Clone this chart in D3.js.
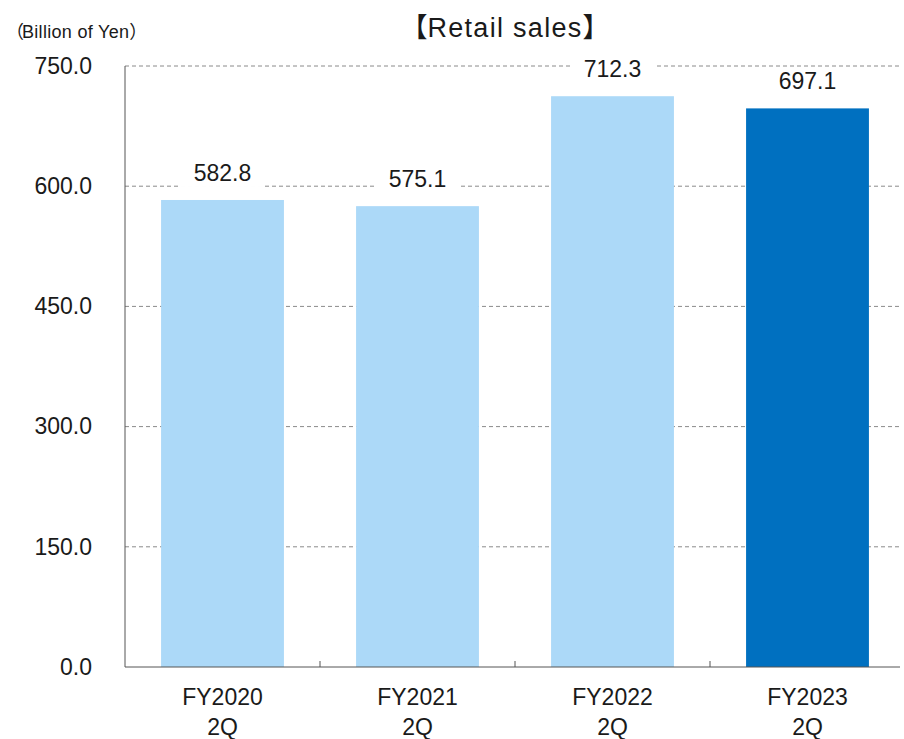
<!DOCTYPE html>
<html>
<head>
<meta charset="utf-8">
<script src="https://cdn.jsdelivr.net/npm/d3@7"></script>
<style>
  body { margin: 0; background: #fff; }
  svg text { font-family: "Liberation Sans", Arial, sans-serif; fill: #1a1a1a; }
</style>
</head>
<body>
<svg id="chart"></svg>
<script>
const categories = ['FY2020\n2Q', 'FY2021\n2Q', 'FY2022\n2Q', 'FY2023\n2Q'];
const values = [582.8, 575.1, 712.3, 697.1];
const barColors = ['#acd9f8', '#acd9f8', '#acd9f8', '#0070c0'];
const yTicks = [0, 150, 300, 450, 600, 750];

const FONT = '"Liberation Sans", Arial, sans-serif';
const CJK = '"Noto Sans CJK JP", "Liberation Sans", sans-serif';

const config = {
  width: 904, height: 739,
  margin: { top: 66, right: 0, bottom: 72, left: 125 },
};
const innerW = 905 - config.margin.left;
const innerH = config.height - config.margin.top - config.margin.bottom;

const svg = d3.select('#chart')
  .attr('width', config.width)
  .attr('height', config.height);

const x = d3.scaleBand().domain(categories).range([0, innerW]).paddingInner(0.37).paddingOuter(0.185);
const y = d3.scaleLinear().domain([0, 750]).range([innerH, 0]);

const chart = svg.append('g')
  .attr('transform', `translate(${config.margin.left},${config.margin.top})`);

// gridlines
chart.append('g')
  .selectAll('line')
  .data(yTicks.filter((d) => d > 0))
  .join('line')
  .attr('x1', 0).attr('x2', 775)
  .attr('y1', (d) => y(d)).attr('y2', (d) => y(d))
  .attr('stroke', '#8a8a8a')
  .attr('stroke-width', 1)
  .attr('stroke-dasharray', '4,3');

// bars
chart.append('g')
  .selectAll('rect')
  .data(values)
  .join('rect')
  .attr('x', (d, i) => x(categories[i]))
  .attr('y', (d) => y(d))
  .attr('width', x.bandwidth())
  .attr('height', (d) => innerH - y(d))
  .attr('fill', (d, i) => barColors[i]);

// value labels with white backing over gridlines
const labels = chart.append('g')
  .selectAll('g')
  .data(values)
  .join('g')
  .attr('transform', (d, i) => `translate(${x(categories[i]) + x.bandwidth() / 2},${y(d) - 19})`);
labels.append('rect')
  .attr('x', -42).attr('y', -22)
  .attr('width', 84).attr('height', 28)
  .attr('fill', '#fff');
labels.append('text')
  .attr('text-anchor', 'middle')
  .style('font-family', FONT)
  .style('font-size', '23px')
  .text((d) => d.toFixed(1));

// y axis
const yAxis = d3.axisLeft(y).tickValues(yTicks).tickSize(0).tickPadding(33)
  .tickFormat((d) => d.toFixed(1));
const yAxisG = chart.append('g').call(yAxis);
yAxisG.select('.domain').attr('stroke', '#555').attr('d', `M0,0V${innerH}`);
yAxisG.selectAll('text')
  .style('font-family', FONT)
  .style('font-size', '23px')
  .attr('fill', '#1a1a1a');

// x axis
const xAxisG = chart.append('g').attr('transform', `translate(0,${innerH})`);
xAxisG.append('line')
  .attr('x1', 0).attr('x2', 775)
  .attr('stroke', '#555');
const bounds = [1, 2, 3].map((i) => x(categories[i]) - x.step() * x.paddingInner() / 2);
xAxisG.selectAll('.sep')
  .data(bounds)
  .join('line')
  .attr('class', 'sep')
  .attr('x1', (d) => d).attr('x2', (d) => d)
  .attr('y1', 0).attr('y2', -6)
  .attr('stroke', '#555');
const xt = xAxisG.selectAll('.xl')
  .data(categories)
  .join('text')
  .attr('class', 'xl')
  .attr('text-anchor', 'middle')
  .attr('x', (d) => x(d) + x.bandwidth() / 2)
  .style('font-family', FONT)
  .style('font-size', '23px');
xt.selectAll('tspan')
  .data((d) => d.split('\n'))
  .join('tspan')
  .attr('x', function () { return d3.select(this.parentNode).attr('x'); })
  .attr('y', (d, i) => 38 + i * 30)
  .text((d) => d);

// title and unit
const title = svg.append('text')
  .attr('x', 505).attr('y', 37)
  .attr('text-anchor', 'middle')
  .style('font-size', '27px');
title.append('tspan').style('font-family', CJK).text('【');
title.append('tspan').style('font-family', FONT).style('letter-spacing', '1.3px').text('Retail sales');
title.append('tspan').style('font-family', CJK).text('】');

const unit = svg.append('text')
  .attr('x', 6).attr('y', 38)
  .style('font-size', '18px');
unit.append('tspan').style('font-family', CJK).text('（');
unit.append('tspan').style('font-family', FONT).style('letter-spacing', '0.3px').attr('dx', -2).text('Billion of Yen');
unit.append('tspan').style('font-family', CJK).text('）');
</script>
</body>
</html>
